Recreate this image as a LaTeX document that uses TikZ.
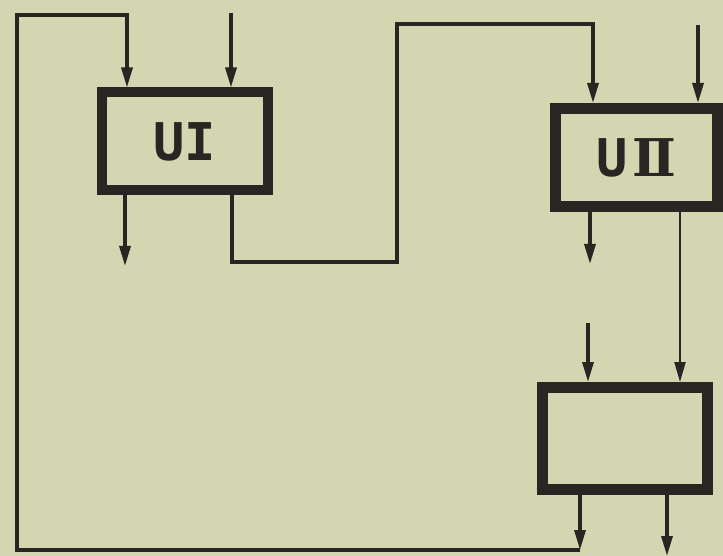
\documentclass[tikz,border=0pt]{standalone}
\usepackage{fontspec}
\usepackage{tikz}
\usetikzlibrary{arrows.meta}
\usetikzlibrary{calc}
\usepackage{xcolor}
\newfontfamily\blockfont{DejaVu Sans Mono}
\newfontfamily\numfont{DejaVu Serif}
\definecolor{paper}{RGB}{212,214,178}
\definecolor{ink}{RGB}{40,38,34}

\begin{document}
\begin{tikzpicture}[x=1pt,y=-1pt,
		blok/.style={draw=ink,line width=10pt,inner sep=0pt,
			font=\blockfont\bfseries\fontsize{52}{52}\selectfont,text=ink},
		sig/.style={draw=ink,line width=3.2pt,
			-{Triangle[length=20pt,width=11pt]}},
		wire/.style={draw=ink,line width=3.2pt}]
			
			% paper
			\fill[paper] (0,0) rectangle (723,556);
			\useasboundingbox (0,0) rectangle (723,556);
			
			% blocks
			\node[blok,minimum width=166pt,minimum height=98pt] (u1) at (184.5,141.5) {UI};
			\node[blok,line width=11pt,minimum width=162pt,minimum height=98pt] (u2) at (636.5,157.5) {U\kern4pt{\numfont Ⅱ}};
			\node[blok,line width=11pt,minimum width=165pt,minimum height=102pt] (u3) at (625,438.5) {};
			
			% free ends
			\coordinate (a1) at (231,13);
			\coordinate (b1) at (125,266);
			\coordinate (k1) at (232,262);
			\coordinate (k2) at (397,24);
			\coordinate (a2) at (698,25);
			\coordinate (b2) at (590,264);
			\coordinate (a3) at (588,323);
			\coordinate (b3) at (580,550);
			\coordinate (b4) at (667,556);
			\coordinate (r1) at (17,15);
			
			% inputs and outputs of UI
			\draw[sig] (a1) -- (a1 |- u1.north);
			\draw[sig] (b1 |- u1.south) -- (b1);
			
			% UI to UII
			\draw[wire] (k1 |- u1.south) -- (k1) -| (k2) -- (593,24);
			\draw[sig] (593,22.4) -- (593,0 |- u2.north);
			
			% inputs and outputs of UII
			\draw[sig] (a2) -- (a2 |- u2.north);
			\draw[sig] (b2 |- u2.south) -- (b2);
			\draw[sig,line width=2.2pt] (680,0 |- u2.south) -- (680,0 |- u3.north);
			
			% lower block
			\draw[sig] (a3) -- (a3 |- u3.north);
			\draw[sig] (b3 |- u3.south) -- (b3);
			\draw[sig] (b4 |- u3.south) -- (b4);
			
			% return to UI
			\draw[wire] (b3) -| (r1) -| (127,40);
			\draw[sig] (127,38) -- (127,0 |- u1.north);
			
		\end{tikzpicture}
\end{document}
